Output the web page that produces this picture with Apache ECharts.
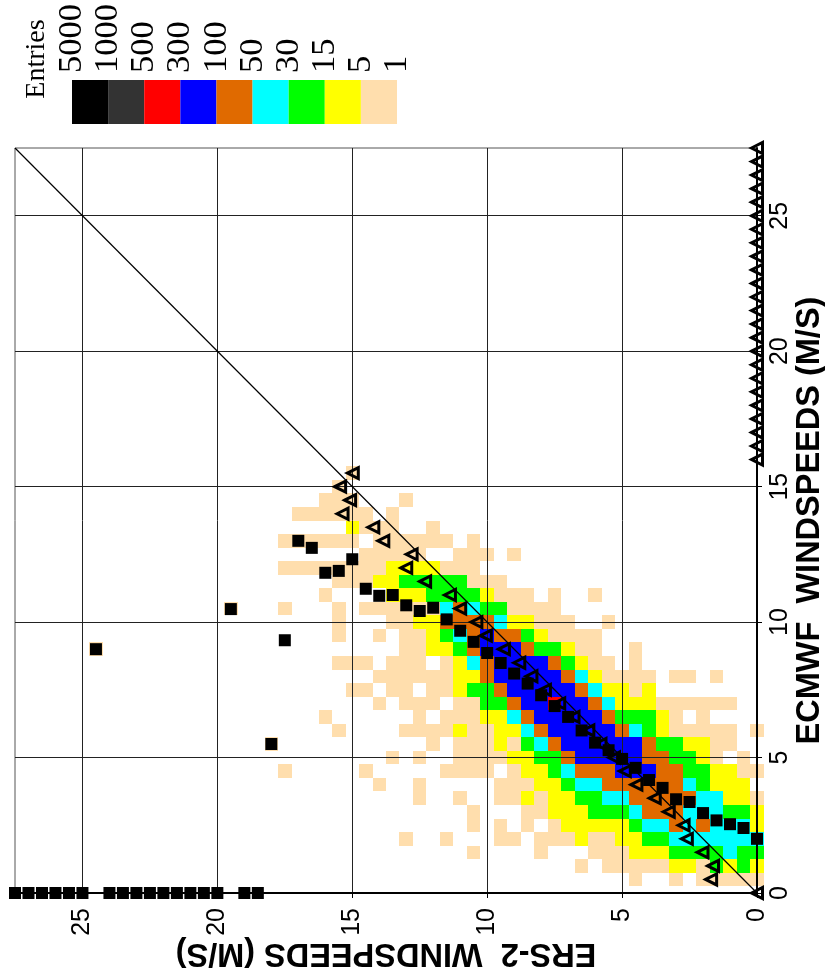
<!DOCTYPE html>
<html><head><meta charset="utf-8">
<style>html,body{margin:0;padding:0;background:#fff}#c{width:825px;height:977px}</style>
<script src="https://cdn.jsdelivr.net/npm/echarts@6/dist/echarts.min.js"></script>
</head><body><div id="c"></div>
<script>
// Legend classes, left to right. Class number in heatRows: 1 = lightest ... 7 = red
const legendLabels = ['5000','1000','500','300','100','50','30','15','5','1'];
const legendColors = ['#000000','#333333','#ff0000','#0000ff','#e06a00','#00ffff','#00ff00','#ffff00','#ffdead'];
const classColors = [null,'#ffdead','#ffff00','#00ff00','#00ffff','#e06a00','#0000ff','#ff0000'];
const axisTicks = [0,5,10,15,20,25];
// One entry per ECMWF bin (0.5, 1.0, ...): "firstErsBin:classes" groups, ERS bin size 0.5 m/s
const heatRows = [
 "0:11111 6:1 9:1",
 "0:232312211111 13:1",
 "0:3343333222111 16:1 21:1",
 "0:444444433221121 15:11 18:11 23:1 26:1",
 "0:2444545443222221 17:1 19:1 21:1",
 "0:2334445554333222 16:11 21:1",
 "0:122445555544332 15:212 18:11 22:1 25:1",
 "1:22234555555443 15:22111 25:1 28:1",
 "0:112233556665554322 18:1 20:1111 29:1 35:1",
 "1:1 3:1233556666653322 19:1111 25:1 27:1",
 "2:11223356666665431 19:2111 24:1 36:1",
 "0:1 2:1111123456666654 18:2211 22:21111 31:1",
 "4:1 6:1233356666654 19:22111 25:1 32:1",
 "2:1111112224566 15:7665 19:3311 24:111 28:1",
 "8:2122456666653 21:3211 26:11 29:11",
 "3:1 5:11 8:11112456666652 22:2111111",
 "9:1 11:112356666542 23:1 25:111 29:111",
 "9:1 12:1123356665322 25:11 49:1",
 "12:11112355 20:6543211 28:1 31:1",
 "11:1 14:11122 19:455552211 31:1",
 "15:11113345 23:4111111 31:1 35:1 39:1",
 "12:1 15:1 17:11123333222 32:1",
 "19:1113333322111",
 "21:111222211111111",
 "18:1 20:111 25:11111",
 "21:1 23:111111 30:111111",
 "24:1 27:1112",
 "27:1 29:111111",
 "26:1 30:111",
 "31:1",
 "30:1"
];
// Mean ECMWF speed for each ERS-2 bin (black squares)
const squareErs = [0,0.5,1,1.5,2,2.5,3,3.5,4,4.5,5,5.5,6,6.5,7,7.5,8,8.5,9,9.5,10,10.5,11,11.5,12,12.5,13,13.5,14,14.5,15,15.5,16,16.5,17,17.5,18,18.5,19,19.5,20,20.5,21,21.5,22,22.5,23,23.5,24,24.5,25,25.5,26,26.5,27,27.5];
const squareEcmwf = [2,2.4,2.54,2.68,2.95,3.36,3.46,3.88,4.17,4.62,4.95,5.27,5.55,6.0,6.5,6.9,7.3,7.73,8.1,8.49,8.86,9.27,9.68,10.1,10.53,10.41,10.62,11.0,10.97,11.23,12.32,11.89,11.82,12.74,13.0,9.33,5.5,0,0,10.48,0,0,0,0,0,0,0,0,0,9.0,0,0,0,0,0,0];
// Mean ERS-2 speed for each ECMWF bin (triangles)
const triangleEcmwf = [0,0.5,1,1.5,2,2.5,3,3.5,4,4.5,5,5.5,6,6.5,7,7.5,8,8.5,9,9.5,10,10.5,11,11.5,12,12.5,13,13.5,14,14.5,15,15.5,16,16.5,17,17.5,18,18.5,19,19.5,20,20.5,21,21.5,22,22.5,23,23.5,24,24.5,25,25.5,26,26.5,27,27.5];
const triangleErs = [0,1.7,1.63,2.02,2.6,2.72,3.27,3.79,4.47,4.9,5.3,5.8,6.25,6.8,7.33,7.86,8.36,8.81,9.38,10.05,10.4,11.0,11.38,12.3,13,12.8,13.85,14.22,15.36,15.08,15.45,14.98,0,0,0,0,0,0,0,0,0,0,0,0,0,0,0,0,0,0,0,0,0,0,0,0];
const diagonal = [[0,0],[27.5,27.5]];

const heatData = [];
heatRows.forEach((row,r)=>{
  row.split(' ').forEach(group=>{
    const [start,codes] = group.split(':');
    [...codes].forEach((c,k)=>heatData.push([(+start+k)*0.5,(r+1)*0.5,+c]));
  });
});
const legendData = legendColors.map((c,i)=>[i,i]);

const chart = echarts.init(document.getElementById('c'),null,{renderer:'canvas'});
const heatItem = (params,api)=>{
  const x=api.value(0), y=api.value(1);
  const a=api.coord([x+0.25,y+0.25]), b=api.coord([x-0.25,y-0.25]);
  const l=Math.round(Math.min(a[0],b[0])), r=Math.round(Math.max(a[0],b[0]));
  const t=Math.round(Math.min(a[1],b[1])), bt=Math.round(Math.max(a[1],b[1]));
  return {type:'rect',shape:{x:l,y:t,width:r-l,height:bt-t},style:{fill:classColors[api.value(2)]}};
};
const legendItem = (params,api)=>{
  const i=api.value(0);
  const a=api.coord([i,1]), b=api.coord([i+1,0]);
  return {type:'rect',shape:{x:a[0],y:a[1],width:b[0]-a[0],height:b[1]-a[1]},style:{fill:legendColors[i]}};
};
chart.setOption({
  animation:false,
  backgroundColor:'#fff',
  grid:[
    {left:15,right:68,top:148,bottom:84,outerBoundsMode:'none',containLabel:false,show:true,borderColor:'#555',borderWidth:1,backgroundColor:'transparent',z:3},
    {left:72,top:80,width:325,height:44,outerBoundsMode:'none',containLabel:false}
  ],
  graphic:[{type:'text',x:37,y:59,rotation:Math.PI/2,
    style:{text:'Entries',fontFamily:'Liberation Serif',fontSize:28,fill:'#000',align:'center',verticalAlign:'middle'}}],
  xAxis:[
    {type:'value',gridIndex:0,inverse:true,min:0,max:27.5,interval:5,position:'bottom',z:3,
     name:'ERS-2  WINDSPEEDS (M/S)',nameLocation:'middle',nameRotate:180,nameGap:43,nameMoveOverlap:false,
     nameTextStyle:{fontFamily:'Liberation Sans',fontWeight:'bold',fontSize:32.5,color:'#000'},
     axisLine:{onZero:false,lineStyle:{color:'#000',width:2}},
     axisTick:{show:true,length:5,lineStyle:{color:'#000',width:1},customValues:axisTicks},
     axisLabel:{rotate:90,margin:15,fontFamily:'Liberation Sans',fontSize:25,color:'#000',customValues:axisTicks},
     splitLine:{show:true,lineStyle:{color:'#222',width:1}}},
    {type:'value',gridIndex:1,min:0,max:9,interval:1,position:'top',
     axisLine:{show:false},axisTick:{show:false},splitLine:{show:false},
     axisLabel:{rotate:90,margin:7,fontFamily:'Liberation Serif',fontSize:34.5,color:'#000',
       showMinLabel:true,showMaxLabel:true,formatter:v=>legendLabels[v]}}
  ],
  yAxis:[
    {type:'value',gridIndex:0,min:0,max:27.5,interval:5,position:'right',z:3,
     name:'ECMWF  WINDSPEEDS (M/S)',nameLocation:'middle',nameRotate:90,nameGap:37,nameMoveOverlap:false,
     nameTextStyle:{fontFamily:'Liberation Sans',fontWeight:'bold',fontSize:32.5,color:'#000'},
     axisLine:{onZero:false,lineStyle:{color:'#000',width:2}},
     axisTick:{show:true,length:5,lineStyle:{color:'#000',width:1},customValues:axisTicks},
     axisLabel:{rotate:90,margin:11,fontFamily:'Liberation Sans',fontSize:25,color:'#000',customValues:axisTicks},
     splitLine:{show:true,lineStyle:{color:'#222',width:1}}},
    {type:'value',gridIndex:1,min:0,max:1,show:false}
  ],
  series:[
    {type:'custom',xAxisIndex:0,yAxisIndex:0,z:2,clip:false,encode:{x:0,y:1},data:heatData,renderItem:heatItem},
    {type:'line',xAxisIndex:0,yAxisIndex:0,z:4,symbol:'none',data:diagonal,lineStyle:{color:'#000',width:1.2},silent:true},
    {type:'scatter',xAxisIndex:0,yAxisIndex:0,z:5,clip:false,symbol:'rect',symbolSize:12,
      data:squareErs.map((x,i)=>[x,squareEcmwf[i]]),itemStyle:{color:'#000',opacity:1}},
    {type:'scatter',xAxisIndex:0,yAxisIndex:0,z:6,clip:false,symbol:'triangle',symbolRotate:90,symbolSize:11,
      data:triangleErs.map((x,i)=>[x,triangleEcmwf[i]]),
      itemStyle:{color:'rgba(0,0,0,0)',borderColor:'#000',borderWidth:3,opacity:1}},
    {type:'custom',xAxisIndex:1,yAxisIndex:1,z:2,encode:{x:0},data:legendData,renderItem:legendItem}
  ]
});
</script></body></html>
